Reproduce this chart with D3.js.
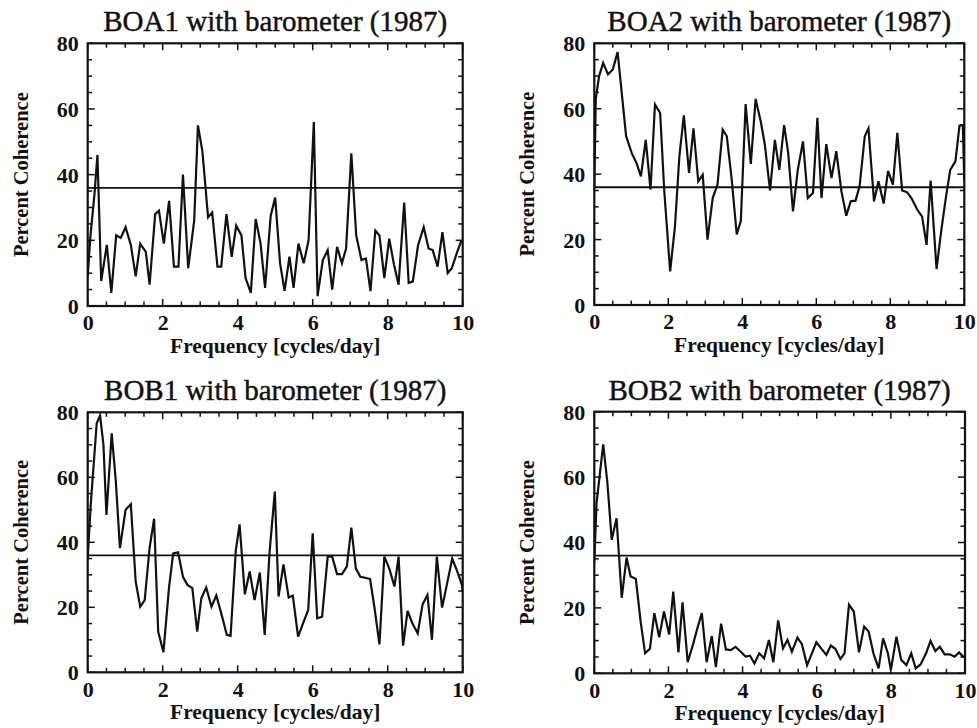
<!DOCTYPE html>
<html>
<head>
<meta charset="utf-8">
<script src="https://cdn.jsdelivr.net/npm/d3@7"></script>
<style>
  html, body { margin: 0; padding: 0; background: #fff; }
  svg { display: block; }
  text { font-family: "Liberation Serif", "Times New Roman", serif; fill: #111; }
</style>
</head>
<body>
<svg id="chart" width="977" height="728"></svg>
<script>
// Coherence spectra of each bottom pressure sensor against the barometer (1987)
const boa1Freq = [0,0.07,0.18,0.26,0.36,0.51,0.63,0.76,0.88,1.01,1.15,1.28,1.40,1.55,1.65,1.80,1.90,2.03,2.17,2.30,2.42,2.54,2.68,2.84,2.94,3.06,3.21,3.32,3.46,3.56,3.70,3.84,3.96,4.10,4.21,4.35,4.48,4.61,4.73,4.88,5.00,5.13,5.25,5.38,5.49,5.62,5.76,5.89,6.03,6.13,6.27,6.40,6.52,6.65,6.78,6.89,7.03,7.16,7.30,7.42,7.54,7.67,7.78,7.91,8.04,8.17,8.29,8.44,8.56,8.67,8.81,8.96,9.09,9.20,9.33,9.46,9.60,9.71,9.84,9.95,10];
const boa1Coh  = [9,21,34,46,7.6,18.6,4,21.5,20.7,24,18.6,9,19,16.5,6.5,28,29,19,32,12,12,40,11.5,26,55,47,27,28.5,12,12,28,15,24.5,21.5,8.5,4,26.5,19,5.5,27.5,33,13,4.6,15,5.5,19,13,20,56,3,14,17,5,18,13,17.5,46.5,21.5,14,14.5,4.5,23,21.5,8.5,20.5,12.5,6.5,31.5,7,7.5,18.5,24,17.5,17,12,22.5,10,11.5,16,19.5,20];

const boa2Freq = [0,0.04,0.13,0.24,0.37,0.50,0.63,0.86,1.01,1.14,1.26,1.39,1.52,1.64,1.78,1.89,2.05,2.18,2.30,2.42,2.56,2.68,2.81,2.93,3.06,3.20,3.33,3.47,3.58,3.71,3.85,3.96,4.09,4.23,4.36,4.50,4.61,4.75,4.88,5.00,5.13,5.24,5.37,5.50,5.64,5.77,5.91,6.03,6.14,6.27,6.41,6.54,6.68,6.81,6.93,7.06,7.17,7.31,7.41,7.56,7.68,7.82,7.94,8.07,8.19,8.32,8.45,8.57,8.73,8.86,8.98,9.09,9.25,9.38,9.50,9.62,9.76,9.87,9.96,10];
const boa2Coh  = [36,63,70,74,70.5,72,77.3,51.6,46.5,43.4,39.3,50.5,35.3,61.3,58.7,35,10.3,24,45.5,58,40.4,54,37.8,39.8,20,32.7,36.8,53.6,51.6,38.8,21.6,25.7,61.4,43.1,63,56,49,35,50.5,41.3,55,46.5,28.6,41.3,50,32.7,34.2,57.2,32.7,49.2,38.8,47,34.7,27.3,31.7,31.9,36.3,51.6,54,31.7,37.8,31,41,36.8,52.6,35,34.5,32.7,29.1,27,18.4,38,11,23,32.7,41.3,43.9,54.8,55,38];

const bob1Freq = [0,0.08,0.24,0.33,0.42,0.50,0.64,0.75,0.86,1.01,1.15,1.28,1.40,1.52,1.65,1.77,1.88,2.02,2.17,2.28,2.41,2.54,2.66,2.79,2.92,3.03,3.16,3.30,3.43,3.56,3.71,3.81,3.95,4.05,4.19,4.32,4.45,4.59,4.72,4.85,4.99,5.09,5.22,5.36,5.47,5.61,5.74,5.88,6.00,6.12,6.25,6.40,6.52,6.65,6.78,6.91,7.03,7.15,7.27,7.40,7.53,7.65,7.78,7.91,8.04,8.18,8.29,8.41,8.53,8.66,8.80,8.93,9.06,9.18,9.31,9.45,9.58,9.72,9.85,9.98,10];
const bob1Coh  = [35,51.5,76.6,79,70,48.4,73.5,58.7,38.2,50,51.7,27.9,20.2,22.2,38.2,47.2,12.5,6.2,26.3,36.6,36.9,29.4,26.9,25.9,12.5,22.8,26.1,20.2,23.6,18.2,11.5,11.2,37.5,45.5,24,31,22.2,30.7,11.5,37,55.6,23.3,33.2,23,23.6,11,15,19.2,42.8,16.6,17.1,35.6,35.6,30.2,30.2,32.5,44.5,32,29.4,29.1,28.7,19.7,8.6,35.6,32,26.4,35.6,8.2,18.9,15,12,20.9,23.8,10,35.6,19.9,27.1,35,31.2,26.9,25];

const bob2Freq = [0,0.06,0.24,0.35,0.47,0.60,0.74,0.87,0.98,1.12,1.25,1.37,1.50,1.62,1.75,1.88,2.02,2.13,2.27,2.38,2.52,2.66,2.78,2.90,3.03,3.17,3.28,3.42,3.55,3.68,3.81,3.95,4.08,4.20,4.32,4.45,4.58,4.71,4.83,4.96,5.09,5.21,5.33,5.48,5.60,5.74,5.86,5.99,6.12,6.26,6.38,6.50,6.64,6.75,6.87,7.00,7.14,7.28,7.40,7.53,7.67,7.79,7.92,8.00,8.15,8.28,8.42,8.55,8.67,8.80,8.95,9.07,9.20,9.32,9.45,9.59,9.72,9.84,9.95,10];
const bob2Coh  = [34,52,70,58.6,40.8,47.4,23.1,35.4,29.6,28.9,15.8,6.1,7.5,18.4,11,18.9,11.9,25,6.4,21.7,3.4,8.7,13.8,18.4,3.4,11.4,1.9,15.2,7.3,7.1,8.1,6.6,5.1,5.4,3,6.1,4.6,10.2,3.4,16.2,7.6,10.2,6.6,10.9,8.9,2.5,5.8,9.5,7.6,5.6,8.5,7.5,4.4,6.1,21,18.9,6.4,14.3,12.8,6.1,1.5,10.7,6.1,1,11.2,4.1,2.5,6.1,1.5,2.7,6.1,9.9,6.8,8.1,5.8,5.8,5.1,6.4,5.1,5];

// Significance level drawn across every panel
const significance = 36;

const panelTitles = ["BOA1 with barometer (1987)", "BOA2 with barometer (1987)",
                     "BOB1 with barometer (1987)", "BOB2 with barometer (1987)"];
const xTickValues = [0, 2, 4, 6, 8, 10];
const yTickValues = [0, 20, 40, 60, 80];
const xLabel = "Frequency [cycles/day]";
const yLabel = "Percent Coherence";

const series = [
  { f: boa1Freq, c: boa1Coh },
  { f: boa2Freq, c: boa2Coh },
  { f: bob1Freq, c: bob1Coh },
  { f: bob2Freq, c: bob2Coh }
];

// Plot boxes (pixels)
const boxes = [
  { x0: 87.7,  x1: 462.7, y0: 43.3,  y1: 306 },
  { x0: 594.3, x1: 964.3, y0: 43.3,  y1: 305 },
  { x0: 87.7,  x1: 462.7, y0: 412.3, y1: 672.3 },
  { x0: 594.3, x1: 965,   y0: 411.7, y1: 673.3 }
];

const svg = d3.select("#chart");

series.forEach((s, i) => {
  const b = boxes[i];
  const w = b.x1 - b.x0, h = b.y1 - b.y0;
  const x = d3.scaleLinear().domain([0, 10]).range([0, w]);
  const y = d3.scaleLinear().domain([0, 80]).range([h, 0]);

  const g = svg.append("g").attr("transform", `translate(${b.x0},${b.y0})`);

  const clipId = "clip" + i;
  g.append("clipPath").attr("id", clipId)
    .append("rect").attr("width", w).attr("height", h);

  // inward ticks on all four sides: minor every 0.5 / 5, major every 2 / 20
  const minorX = d3.range(0, 10.001, 0.5);
  const minorY = d3.range(0, 80.001, 5);
  const tickG = g.append("g").attr("stroke", "#111").attr("stroke-width", 1.5);
  minorX.forEach(v => {
    const major = Math.abs(v / 2 - Math.round(v / 2)) < 1e-6;
    const len = major ? 7 : 4.5;
    tickG.append("line").attr("x1", x(v)).attr("x2", x(v)).attr("y1", h).attr("y2", h - len);
    tickG.append("line").attr("x1", x(v)).attr("x2", x(v)).attr("y1", 0).attr("y2", len);
  });
  minorY.forEach(v => {
    const major = v % 20 === 0;
    const len = major ? 7 : 4.5;
    tickG.append("line").attr("x1", 0).attr("x2", len).attr("y1", y(v)).attr("y2", y(v));
    tickG.append("line").attr("x1", w).attr("x2", w - len).attr("y1", y(v)).attr("y2", y(v));
  });

  // tick labels via d3 axes (tick lines hidden, drawn above)
  const xAxis = g.append("g").attr("transform", `translate(0,${h})`)
    .call(d3.axisBottom(x).tickValues(xTickValues).tickSize(0).tickPadding(9).tickFormat(d3.format("d")));
  const yAxis = g.append("g")
    .call(d3.axisLeft(y).tickValues(yTickValues).tickSize(0).tickPadding(9).tickFormat(d3.format("d")));
  [xAxis, yAxis].forEach(a => {
    a.select(".domain").remove();
    a.selectAll("text").attr("font-family", "Liberation Serif, serif")
      .attr("font-size", 22).attr("font-weight", "bold").attr("fill", "#111");
  });
  xAxis.selectAll("text").attr("dy", "0.7em");
  yAxis.selectAll("text").attr("dy", "0.34em");

  // significance line
  g.append("line")
    .attr("x1", 0).attr("x2", w)
    .attr("y1", y(significance)).attr("y2", y(significance))
    .attr("stroke", "#111").attr("stroke-width", 1.8);

  // coherence curve
  const pts = s.f.map((f, k) => [f, s.c[k]]);
  g.append("path")
    .attr("clip-path", `url(#${clipId})`)
    .attr("d", d3.line().x(d => x(d[0])).y(d => y(d[1]))(pts))
    .attr("fill", "none").attr("stroke", "#111")
    .attr("stroke-width", 2.2).attr("stroke-linejoin", "miter");

  // frame
  g.append("rect").attr("width", w).attr("height", h)
    .attr("fill", "none").attr("stroke", "#111").attr("stroke-width", 2.2);

  // titles
  g.append("text").attr("x", w / 2).attr("y", -12)
    .attr("text-anchor", "middle").attr("font-size", 29)
    .attr("stroke", "#111").attr("stroke-width", 0.45)
    .text(panelTitles[i]);
  g.append("text").attr("x", w / 2).attr("y", h + 47)
    .attr("text-anchor", "middle").attr("font-size", 21.5).attr("font-weight", "bold")
    .text(xLabel);
  g.append("text")
    .attr("transform", `translate(-60,${h / 2}) rotate(-90)`)
    .attr("text-anchor", "middle").attr("font-size", 20.5).attr("font-weight", "bold")
    .text(yLabel);
});
</script>
</body>
</html>
